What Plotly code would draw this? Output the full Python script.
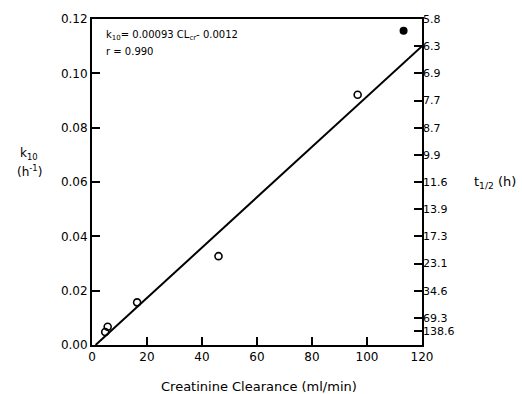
import plotly.graph_objects as go

# Creatinine clearance (ml/min) vs elimination rate constant k10 (1/h)
open_cl = [4.8, 5.7, 16.4, 46.0, 96.6]
open_k10 = [0.0048, 0.0067, 0.0157, 0.0327, 0.0921]
filled_cl = [113.3]
filled_k10 = [0.1157]

# regression line endpoints
fit_cl = [1.3, 120]
fit_k10 = [0.0, 0.1100]

left_ticks = [0.00, 0.02, 0.04, 0.06, 0.08, 0.10, 0.12]
x_ticks = [0, 20, 40, 60, 80, 100, 120]

# right axis: half-life labels at k10 positions
half_life_k = [0.12, 0.11, 0.10, 0.09, 0.08, 0.07, 0.06, 0.05, 0.04, 0.03, 0.02, 0.01, 0.005]
half_life_text = ["5.8", "6.3", "6.9", "7.7", "8.7", "9.9", "11.6", "13.9", "17.3", "23.1", "34.6", "69.3", "138.6"]

font = dict(family="DejaVu Sans", size=11, color="black")

fig = go.Figure()

fig.add_trace(go.Scatter(
    x=fit_cl, y=fit_k10, mode="lines",
    line=dict(color="black", width=2),
    showlegend=False,
))

fig.add_trace(go.Scatter(
    x=open_cl, y=open_k10, mode="markers",
    marker=dict(symbol="circle-open", size=7, color="black", line=dict(width=1.6)),
    showlegend=False,
))

fig.add_trace(go.Scatter(
    x=filled_cl, y=filled_k10, mode="markers",
    marker=dict(symbol="circle", size=8, color="black"),
    showlegend=False,
))

# dummy trace to activate second y axis
fig.add_trace(go.Scatter(x=[None], y=[None], yaxis="y2", showlegend=False))

fig.update_layout(
    width=522, height=394,
    margin=dict(l=92, r=100, t=15, b=49),
    plot_bgcolor="white", paper_bgcolor="white",
    font=font,
    xaxis=dict(
        range=[0, 120], tickvals=x_ticks, ticktext=[str(v) for v in x_ticks],
        ticks="inside", ticklen=8, tickwidth=1.5, tickcolor="black",
        showline=True, linecolor="black", linewidth=2, mirror=True,
        showgrid=False, zeroline=False,
        tickfont=dict(family="DejaVu Sans", size=12, color="black"),
    ),
    yaxis=dict(
        range=[0, 0.12], tickvals=left_ticks, ticktext=["%.2f" % v for v in left_ticks],
        ticks="inside", ticklen=8, tickwidth=1.5, tickcolor="black",
        showline=True, linecolor="black", linewidth=2, mirror=True,
        showgrid=False, zeroline=False,
        tickfont=dict(family="DejaVu Sans", size=12, color="black"),
    ),
    yaxis2=dict(
        range=[0, 0.12], overlaying="y", side="right",
        tickvals=half_life_k, ticktext=half_life_text,
        ticks="inside", ticklen=8, tickwidth=1.5, tickcolor="black",
        showline=False, showgrid=False, zeroline=False,
        tickfont=dict(family="DejaVu Sans", size=11, color="black"),
    ),
    annotations=[
        dict(text="k<sub>10</sub>= 0.00093 CL<sub>cr</sub>- 0.0012",
             xref="paper", yref="paper", x=0.035, y=0.948, xanchor="left", yanchor="middle",
             align="left", showarrow=False, font=dict(family="DejaVu Sans", size=10, color="black")),
        dict(text="r = 0.990",
             xref="paper", yref="paper", x=0.035, y=0.900, xanchor="left", yanchor="middle",
             align="left", showarrow=False, font=dict(family="DejaVu Sans", size=10, color="black")),
        dict(text="k<sub>10</sub>",
             xref="paper", yref="paper", x=-0.19, y=0.585, xanchor="center", yanchor="middle",
             showarrow=False, font=dict(family="DejaVu Sans", size=12, color="black")),
        dict(text="(h<sup>-1</sup>)",
             xref="paper", yref="paper", x=-0.19, y=0.535, xanchor="center", yanchor="middle",
             showarrow=False, font=dict(family="DejaVu Sans", size=12, color="black")),
        dict(text="t<sub>1/2</sub> (h)",
             xref="paper", yref="paper", x=1.22, y=0.497, xanchor="center", yanchor="middle",
             showarrow=False, font=dict(family="DejaVu Sans", size=13, color="black")),
        dict(text="Creatinine Clearance (ml/min)",
             xref="paper", yref="paper", x=0.507, y=-0.126, xanchor="center", yanchor="middle",
             showarrow=False, font=dict(family="DejaVu Sans", size=13, color="black")),
    ],
)

# drop the page's default body margin so the figure sits at the window's corner
fig.write_html("out.html", config={"displayModeBar": False},
               post_script="document.body.style.margin='0';")
